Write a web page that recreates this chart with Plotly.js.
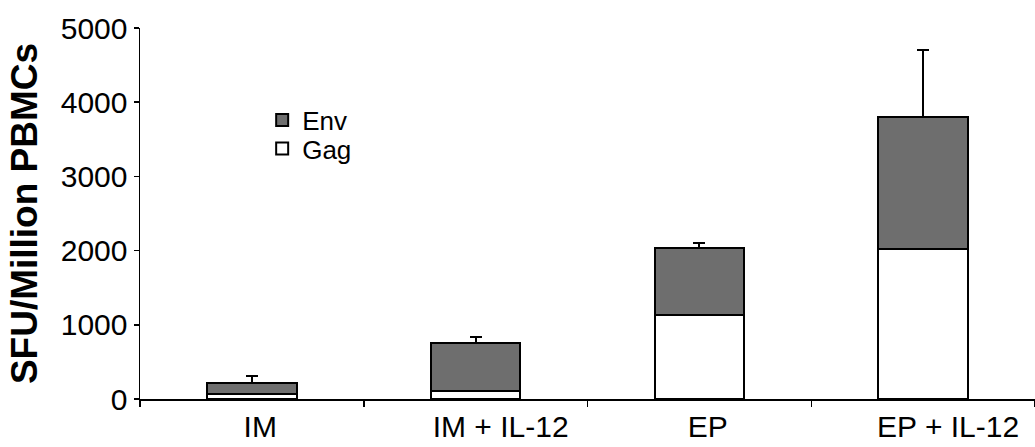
<!DOCTYPE html>
<html>
<head>
<meta charset="utf-8">
<script src="https://cdn.plot.ly/plotly-3.0.1.min.js"></script>
<style>html,body{margin:0;padding:0;background:#fff;}#chart{width:1035px;height:447px;}</style>
</head>
<body>
<div id="chart"></div>
<script>
const categories = ["IM", "IM + IL-12", "EP", "EP + IL-12"];
const gagValues = [62, 112, 1130, 2018];
const envValues = [153, 641, 910, 1785];
const envErrors = [98, 81, 59, 906];
const yTickValues = [0, 1000, 2000, 3000, 4000, 5000];

const FONT = "Liberation Sans, Arial, sans-serif";

// tick labels sit slightly right of the bar centres in the original figure
const xTickText = categories.map(c => (c.length > 4 ? "\u00a0".repeat(6) : "\u00a0\u00a0") + c);

const traces = [
  {
    type: "bar", name: "Gag", x: categories, y: gagValues, legend: "legend2",
    marker: {color: "#ffffff", line: {color: "#000000", width: 2}}
  },
  {
    type: "bar", name: "Env", x: categories, y: envValues, legend: "legend",
    marker: {color: "#6e6e6e", line: {color: "#000000", width: 2}},
    error_y: {type: "data", array: envErrors, symmetric: false, arrayminus: [0,0,0,0],
              color: "#000000", thickness: 2, width: 6}
  }
];

const legendBase = {
  xanchor: "left", yanchor: "middle", bgcolor: "rgba(0,0,0,0)",
  font: {family: FONT, size: 26, color: "#000"}
};

const layout = {
  width: 1035, height: 447,
  margin: {l: 140, r: 0, t: 28, b: 48, pad: 0},
  paper_bgcolor: "#ffffff", plot_bgcolor: "#ffffff",
  barmode: "stack", bargap: 0.6,
  showlegend: true,
  legend: Object.assign({x: 0.1365, y: 0.752}, legendBase),
  legend2: Object.assign({x: 0.1365, y: 0.675}, legendBase),
  font: {family: FONT, color: "#000"},
  xaxis: {
    type: "category", tickvals: categories, ticktext: xTickText,
    showline: true, linecolor: "#000", linewidth: 1.5,
    ticks: "outside", tickson: "boundaries", ticklen: 6, tickcolor: "#000", tickwidth: 1.5,
    tickfont: {family: FONT, size: 30, color: "#000"},
    showgrid: false, zeroline: false
  },
  yaxis: {
    range: [0, 5000], tickvals: yTickValues, ticktext: yTickValues.map(String),
    showline: true, linecolor: "#000", linewidth: 1.5,
    ticks: "outside", ticklen: 5, tickcolor: "#000", tickwidth: 1.5,
    tickfont: {family: FONT, size: 30, color: "#000"},
    showgrid: false, zeroline: false,
    title: {text: "SFU/Million PBMCs", font: {family: FONT, size: 37, color: "#000", weight: "bold"}, standoff: 12}
  }
};

Plotly.newPlot("chart", traces, layout, {displayModeBar: false, staticPlot: true});
</script>
</body>
</html>
